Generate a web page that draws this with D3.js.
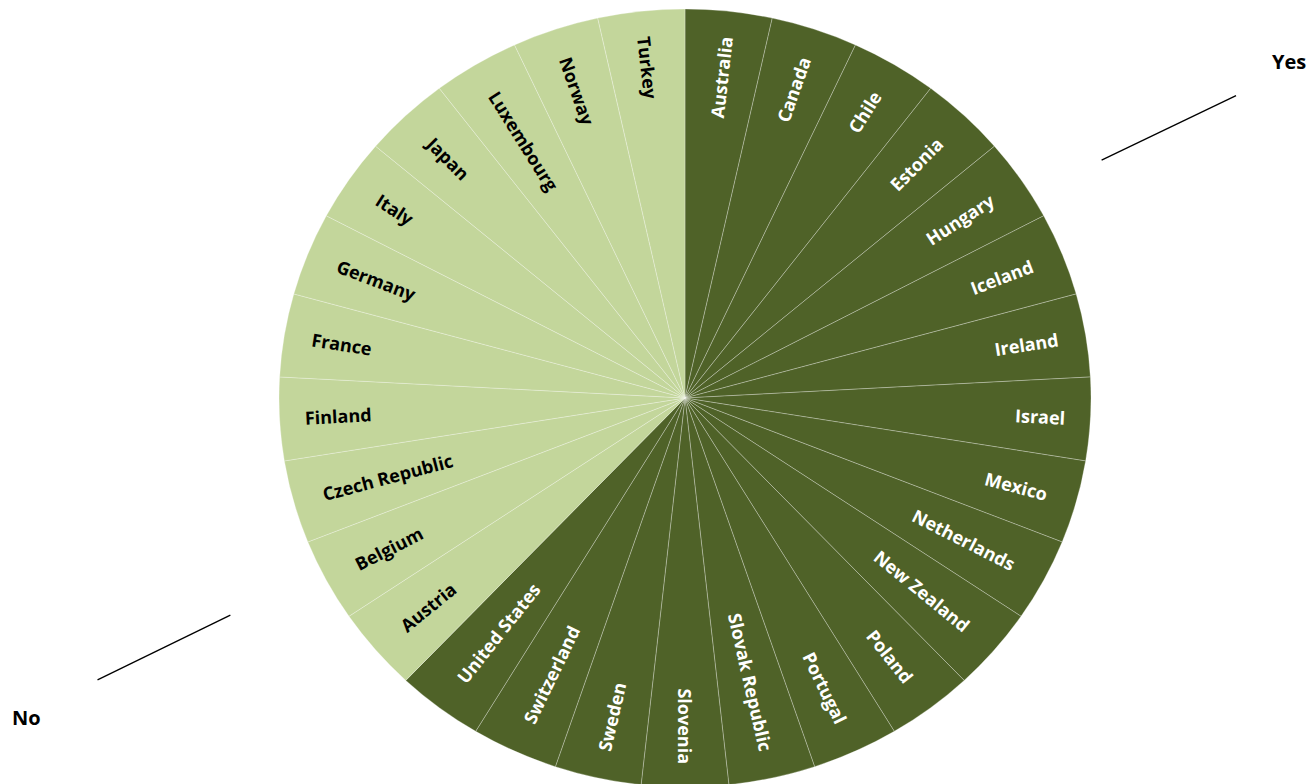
<!DOCTYPE html>
<html><head><meta charset="utf-8">
<script src="https://cdn.jsdelivr.net/npm/d3@7"></script>
<style>
html,body{margin:0;padding:0;background:#fff;}
svg{display:block;}
text{font-family:"Open Sans",sans-serif;font-weight:700;}
</style></head><body>
<svg id="chart" width="1312" height="784"></svg>
<script>
const countries = ["Australia","Canada","Chile","Estonia","Hungary","Iceland","Ireland","Israel","Mexico","Netherlands","New Zealand","Poland","Portugal","Slovak Republic","Slovenia","Sweden","Switzerland","United States","Austria","Belgium","Czech Republic","Finland","France","Germany","Italy","Japan","Luxembourg","Norway","Turkey"];
const answers = ["Yes","Yes","Yes","Yes","Yes","Yes","Yes","Yes","Yes","Yes","Yes","Yes","Yes","Yes","Yes","Yes","Yes","Yes","No","No","No","No","No","No","No","No","No","No","No"];
const values = countries.map(() => 1);
const groupLabels = ["Yes","No"];
const groupColors = {"Yes":"#4F6228","No":"#C3D69B"};
const labelColors = {"Yes":"#ffffff","No":"#000000"};

const W = 1312, H = 784;
const cx = 685, cy = 398, R = 406, sy = 389/406;
const svg = d3.select("#chart");

const pie = d3.pie().sort(null).value(d => d.v);
const arcs = pie(countries.map((c,i) => ({c, a: answers[i], v: values[i]})));
const arc = d3.arc().innerRadius(0).outerRadius(R);

const g = svg.append("g").attr("transform", `translate(${cx},${cy}) scale(1,${sy})`);
g.selectAll("path").data(arcs).join("path")
  .attr("d", arc)
  .attr("fill", d => groupColors[d.data.a])
  .attr("stroke", "#ffffff")
  .attr("stroke-opacity", 0.4)
  .attr("stroke-width", 0.7)
  .attr("vector-effect", "non-scaling-stroke");

function polar(theta, r){ return [cx + r*Math.sin(theta), cy - r*Math.cos(theta)*sy]; }

// label box outer corner kept at radius Rc; box thickness hb
const Rc = 382.2, hb = 24;
svg.append("g").selectAll("text").data(arcs).join("text")
  .each(function(d){
    const a = (d.startAngle + d.endAngle)/2;
    const s2 = Math.abs(Math.sin(2*a));
    const rEnd = -(hb/2)*s2 + Math.sqrt((hb/2)*(hb/2)*s2*s2 - hb*hb/4 + Rc*Rc);
    const [x,y] = polar(a, rEnd);
    const dir = Math.atan2(-Math.cos(a)*sy, Math.sin(a)) * 180/Math.PI;
    const right = a <= Math.PI + 1e-6;
    const rot = right ? dir : dir + 180;
    d3.select(this)
      .attr("transform", `translate(${x},${y}) rotate(${rot})`)
      .attr("text-anchor", right ? "end" : "start")
      .attr("dominant-baseline", "central")
      .attr("font-size", 18)
      .attr("fill", labelColors[d.data.a])
      .text(d.data.c);
  });

// Group labels with leader lines
const groupAnno = [
  {t:"Yes", a0:59.2, r0:485, a1:60.2, r1:635, tx:1272, ty:69},
  {t:"No",  a0:243.5, r0:508, a1:243.4, r1:657, tx:12, ty:725}
];
groupAnno.forEach(o => {
  const p0 = polar(o.a0*Math.PI/180, o.r0), p1 = polar(o.a1*Math.PI/180, o.r1);
  svg.append("line").attr("x1",p0[0]).attr("y1",p0[1]).attr("x2",p1[0]).attr("y2",p1[1])
    .attr("stroke","#000").attr("stroke-width",1.3);
  svg.append("text").attr("x",o.tx).attr("y",o.ty)
    .attr("font-size",20).attr("fill","#000").text(o.t);
});
</script>
</body></html>
